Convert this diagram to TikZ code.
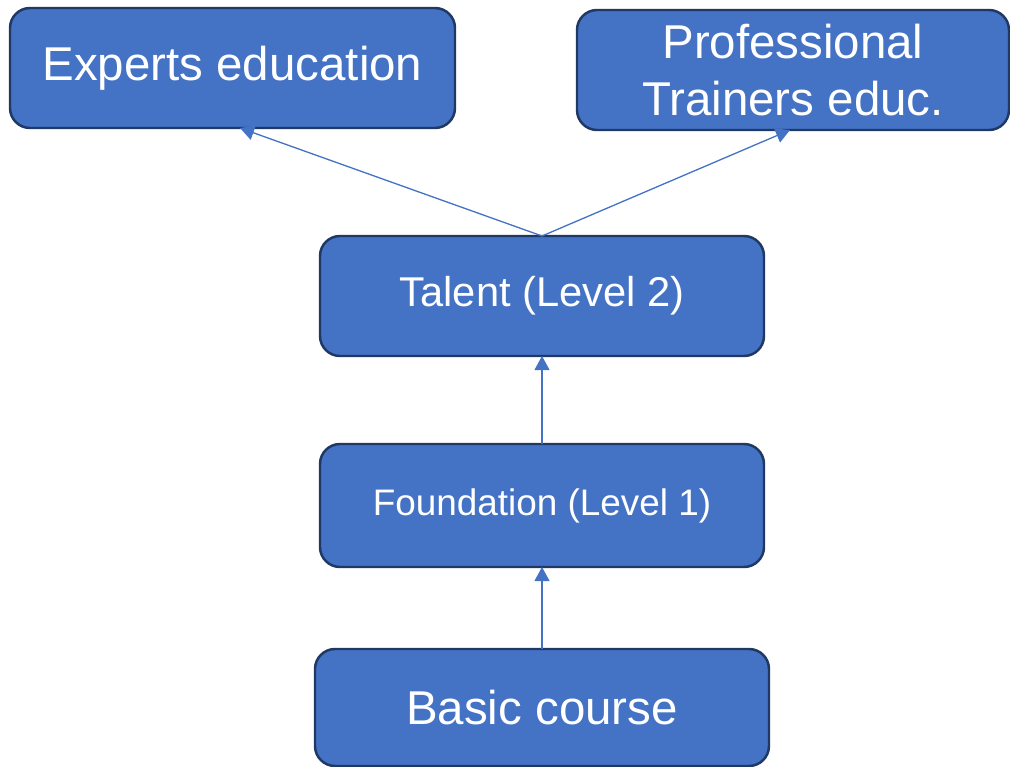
\documentclass[tikz,border=0pt]{standalone}
\usepackage{fontspec}
\setmainfont{Liberation Sans}
\usepackage{xcolor}
\usepackage{tikz}
\usetikzlibrary{positioning,arrows.meta}
\definecolor{boxblue}{HTML}{4472C4}
\definecolor{boxline}{HTML}{1F3864}

\begin{document}
\begin{tikzpicture}[
    levelbox/.style={draw=boxline, line width=1.4pt, fill=boxblue, rounded corners=0.4cm,
        text=white, align=center, minimum width=8.88cm, minimum height=2.4cm, outer sep=0pt,
        font=\fontsize{27}{32.3}\selectfont},
    uparrow/.style={draw=boxblue, line width=0.75pt, -{Triangle[length=8pt,width=8.5pt]}}
    ]
                \useasboundingbox (0,0) rectangle (20.2,-15.34);
                \node (talent) [levelbox, font=\fontsize{23.7}{28}\selectfont] at (10.84,-5.92) {Talent (Level 2)};
                \node (foundation) [levelbox, minimum height=2.46cm, font=\fontsize{21}{25}\selectfont, below=1.76cm of talent] {Foundation (Level 1)};
                \node (basic) [levelbox, minimum width=9.08cm, minimum height=2.34cm, below=1.64cm of foundation] {Basic course};
                \node (experts) [levelbox, minimum width=8.9cm] at (4.65,-1.36) {Experts education};
                \node (trainers) [levelbox, minimum width=8.64cm] at (15.86,-1.40) {Professional\\ Trainers educ.};
                \draw[uparrow] (basic.north) -- (foundation.south);
                \draw[uparrow] (foundation.north) -- (talent.south);
                \draw[uparrow] (talent.north) -- ([xshift=0.15cm]experts.south);
                \draw[uparrow] (talent.north) -- ([xshift=-0.06cm]trainers.south);
            \end{tikzpicture}
\end{document}
